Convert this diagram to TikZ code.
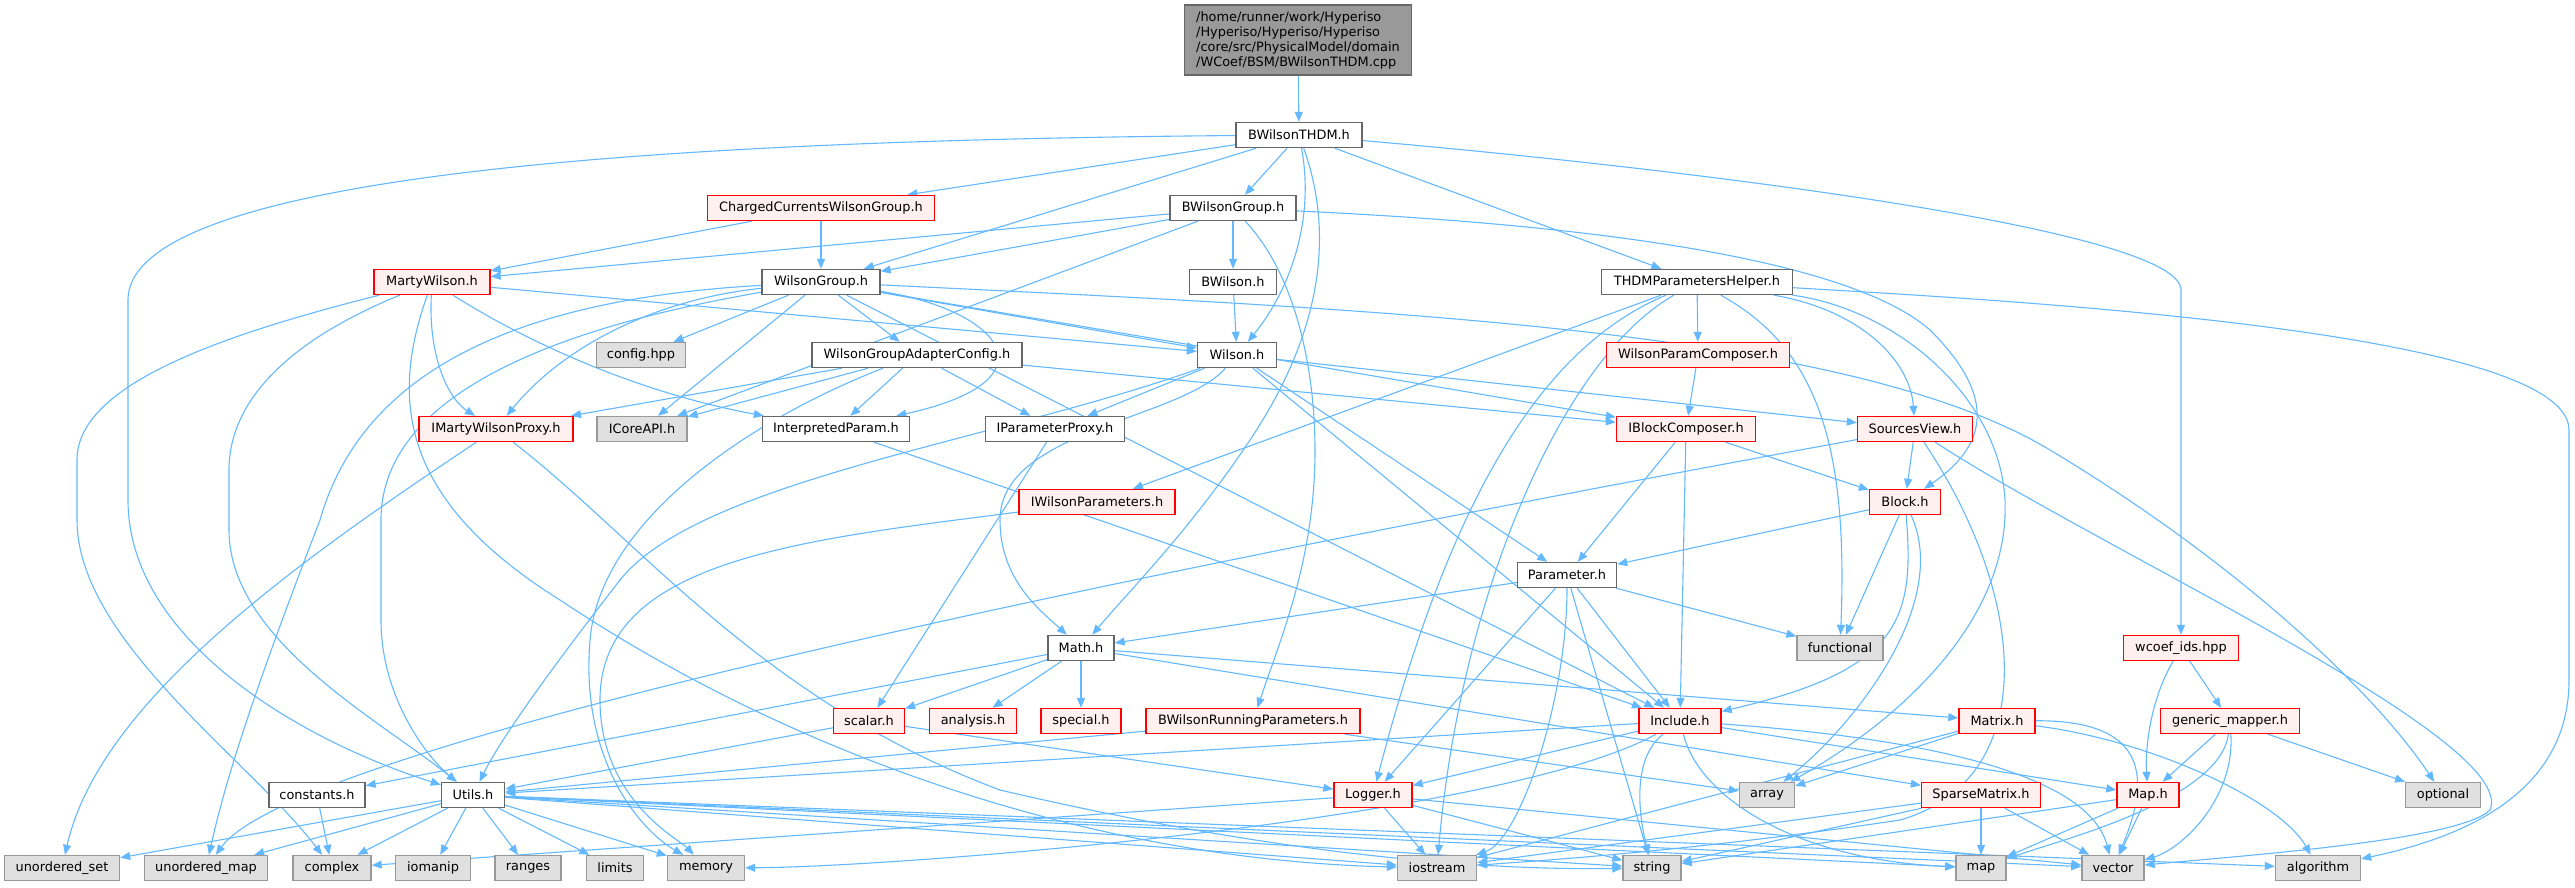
\documentclass[tikz,border=0pt]{standalone}
\usepackage{fontspec}
\setmainfont{DejaVu Sans}
\usetikzlibrary{arrows.meta,backgrounds}
\definecolor{edgeblue}{HTML}{63B8FF}
\definecolor{plainborder}{HTML}{666666}
\definecolor{redborder}{HTML}{FF0000}
\definecolor{redfill}{HTML}{FFF0F0}
\definecolor{sysborder}{HTML}{999999}
\definecolor{sysfill}{HTML}{E0E0E0}
\definecolor{topfill}{HTML}{999999}
\begin{document}
\begin{tikzpicture}[x=1pt,y=-1pt,
  every node/.style={font=\fontsize{12.9}{15}\selectfont},
  box/.style={draw=plainborder, fill=white, line width=1.4pt, minimum height=25pt, inner sep=0pt},
  redbox/.style={box, draw=redborder, fill=redfill},
  sysbox/.style={box, draw=sysborder, fill=sysfill},
  edge/.style={draw=edgeblue, line width=1.1pt, -{Triangle[length=10pt,width=8pt]}}]
\useasboundingbox (0,0) rectangle (2575,887);
\node[box, fill=topfill, minimum width=227pt, minimum height=70pt, align=left] (top) at (1298,40) {/home/runner/work/Hyperiso\\/Hyperiso/Hyperiso/Hyperiso\\/core/src/PhysicalModel/domain\\/WCoef/BSM/BWilsonTHDM.cpp};
\node[box, minimum width=126pt] (bthdm) at (1299,135) {BWilsonTHDM.h};
\node[redbox, minimum width=227pt] (ccwg) at (821,208) {ChargedCurrentsWilsonGroup.h};
\node[box, minimum width=126pt] (bwg) at (1233,208) {BWilsonGroup.h};
\node[redbox, minimum width=116pt] (mw) at (432,282) {MartyWilson.h};
\node[box, minimum width=118pt] (wg) at (821,282) {WilsonGroup.h};
\node[box, minimum width=87pt] (bw) at (1233,282) {BWilson.h};
\node[box, minimum width=191pt] (thdm) at (1697,282) {THDMParametersHelper.h};
\node[sysbox, minimum width=89pt] (config) at (641,355) {config.hpp};
\node[box, minimum width=210pt] (wgac) at (917,355) {WilsonGroupAdapterConfig.h};
\node[box, minimum width=79pt] (wilson) at (1237,355) {Wilson.h};
\node[redbox, minimum width=183pt] (wpc) at (1698,355) {WilsonParamComposer.h};
\node[redbox, minimum width=154pt] (imwp) at (496,429) {IMartyWilsonProxy.h};
\node[sysbox, minimum width=90pt] (icore) at (642,429) {ICoreAPI.h};
\node[box, minimum width=147pt] (ip) at (836,429) {InterpretedParam.h};
\node[box, minimum width=139pt] (ipp) at (1055,429) {IParameterProxy.h};
\node[redbox, minimum width=139pt] (ibc) at (1686,429) {IBlockComposer.h};
\node[redbox, minimum width=115pt] (sv) at (1915,429) {SourcesView.h};
\node[redbox, minimum width=156pt] (iwp) at (1097,502) {IWilsonParameters.h};
\node[redbox, minimum width=71pt] (block) at (1905,502) {Block.h};
\node[box, minimum width=99pt] (param) at (1567,575) {Parameter.h};
\node[box, minimum width=66pt] (math) at (1081,648) {Math.h};
\node[sysbox, minimum width=86pt] (functional) at (1840,648) {functional};
\node[redbox, minimum width=115pt] (wcoef) at (2181,648) {wcoef\_ids.hpp};
\node[redbox, minimum width=71pt] (scalar) at (869,721) {scalar.h};
\node[redbox, minimum width=87pt] (analysis) at (973,721) {analysis.h};
\node[redbox, minimum width=80pt] (special) at (1081,721) {special.h};
\node[redbox, minimum width=214pt] (bwrp) at (1253,721) {BWilsonRunningParameters.h};
\node[redbox, minimum width=82pt] (include) at (1680,721) {Include.h};
\node[redbox, minimum width=76pt] (matrix) at (1997,721) {Matrix.h};
\node[redbox, minimum width=139pt] (gm) at (2230,721) {generic\_mapper.h};
\node[box, minimum width=96pt] (constants) at (317,795) {constants.h};
\node[box, minimum width=63pt] (utils) at (473,795) {Utils.h};
\node[redbox, minimum width=78pt] (logger) at (1373,795) {Logger.h};
\node[sysbox, minimum width=55pt] (array) at (1767,795) {array};
\node[redbox, minimum width=119pt] (sparse) at (1981,795) {SparseMatrix.h};
\node[redbox, minimum width=62pt] (mapH) at (2148,795) {Map.h};
\node[sysbox, minimum width=75pt] (optional) at (2443,795) {optional};
\node[sysbox, minimum width=115pt] (uset) at (62,868) {unordered\_set};
\node[sysbox, minimum width=123pt] (umap) at (206,868) {unordered\_map};
\node[sysbox, minimum width=78pt] (complex) at (332,868) {complex};
\node[sysbox, minimum width=75pt] (iomanip) at (433,868) {iomanip};
\node[sysbox, minimum width=66pt] (ranges) at (528,868) {ranges};
\node[sysbox, minimum width=57pt] (limits) at (615,868) {limits};
\node[sysbox, minimum width=77pt] (memory) at (706,868) {memory};
\node[sysbox, minimum width=79pt] (iostream) at (1437,868) {iostream};
\node[sysbox, minimum width=58pt] (string) at (1652,868) {string};
\node[sysbox, minimum width=50pt] (map) at (1981,868) {map};
\node[sysbox, minimum width=62pt] (vector) at (2113,868) {vector};
\node[sysbox, minimum width=85pt] (algorithm) at (2318,868) {algorithm};
\begin{scope}[on background layer]
\foreach \a/\b in {top/bthdm, bthdm/ccwg, bthdm/bwg, bthdm/wg, bthdm/thdm, ccwg/mw, ccwg/wg, bwg/mw, bwg/wg, bwg/icore, bwg/bw, bw/wilson, mw/wilson, wg/config, wg/wgac, wg/icore, wg/wilson, wg/ibc, wg/include, wgac/imwp, wgac/icore, wgac/ip, wgac/ipp, wgac/ibc, wilson/ipp, wilson/param, wilson/include, wilson/sv, thdm/wpc, thdm/iwp, wpc/ibc, ibc/param, ibc/include, ibc/block, sv/block, block/param, block/functional, ip/include, ipp/scalar, param/math, param/include, param/logger, param/string, param/functional, math/scalar, math/analysis, math/special, math/constants, math/matrix, math/sparse, scalar/utils, scalar/logger, bwrp/utils, bwrp/array, include/utils, include/logger, include/mapH, matrix/array, matrix/iostream, wcoef/gm, gm/mapH, gm/optional, sparse/map, sparse/vector, sparse/string, sparse/iostream, mapH/map, mapH/vector, mapH/string, logger/iostream, logger/string, logger/complex, logger/vector, constants/complex, utils/uset, utils/umap, utils/complex, utils/iomanip, utils/ranges, utils/limits, utils/memory, utils/iostream, utils/string, utils/map, utils/vector, utils/algorithm}
  \draw[edge] (\a) -- (\b);
\draw[edge] (bthdm) .. controls (700,140) and (128,170) .. (128,300) -- (128,500) .. controls (128,640) and (300,740) .. (utils);
\draw[edge] (bthdm) .. controls (1315,220) and (1290,290) .. (wilson);
\draw[edge] (bthdm) .. controls (1340,250) and (1310,350) .. (1250,440) .. controls (1190,530) and (1130,590) .. (math);
\draw[edge] (bthdm) .. controls (1700,170) and (2181,230) .. (2181,290) -- (wcoef);
\draw[edge] (bwg) .. controls (1300,280) and (1315,380) .. (1315,450) .. controls (1315,560) and (1280,640) .. (bwrp);
\draw[edge] (bwg) .. controls (1600,225) and (1850,260) .. (1930,330) .. controls (1990,390) and (1995,440) .. (block);
\draw[edge] (mw) .. controls (200,340) and (77,390) .. (77,460) -- (77,520) .. controls (77,640) and (250,760) .. (complex);
\draw[edge] (mw) .. controls (290,340) and (229,400) .. (229,470) -- (229,530) .. controls (229,640) and (380,720) .. (utils);
\draw[edge] (mw) .. controls (390,400) and (400,500) .. (560,600) .. controls (800,760) and (1100,860) .. (iostream);
\draw[edge] (mw) .. controls (428,360) and (450,400) .. (imwp);
\draw[edge] (mw) .. controls (540,350) and (650,395) .. (ip);
\draw[edge] (wg) .. controls (650,300) and (560,350) .. (imwp);
\draw[edge] (wg) .. controls (500,300) and (360,380) .. (320,520) .. controls (270,650) and (230,760) .. (umap);
\draw[edge] (wg) .. controls (600,320) and (381,380) .. (381,520) -- (381,620) .. controls (381,700) and (430,760) .. (utils);
\draw[edge] (wg) .. controls (1000,310) and (1060,380) .. (ip);
\draw[edge] (wg) .. controls (1400,310) and (1850,330) .. (2050,450) .. controls (2250,570) and (2380,700) .. (optional);
\draw[edge] (wgac) .. controls (750,420) and (600,520) .. (590,640) .. controls (580,760) and (640,830) .. (memory);
\draw[edge] (wilson) .. controls (1180,420) and (1000,430) .. (1000,520) .. controls (1000,580) and (1040,610) .. (math);
\draw[edge] (wilson) .. controls (1000,440) and (700,480) .. (620,580) .. controls (550,670) and (500,740) .. (utils);
\draw[edge] (thdm) .. controls (2000,300) and (2569,330) .. (2569,430) -- (2569,680) .. controls (2569,800) and (2450,840) .. (algorithm);
\draw[edge] (thdm) .. controls (1900,310) and (2000,400) .. (2005,500) .. controls (2010,620) and (1900,720) .. (array);
\draw[edge] (thdm) .. controls (1820,350) and (1848,450) .. (functional);
\draw[edge] (thdm) .. controls (1860,310) and (1910,360) .. (sv);
\draw[edge] (thdm) .. controls (1560,340) and (1460,460) .. (logger);
\draw[edge] (thdm) .. controls (1560,360) and (1460,600) .. (iostream);
\draw[edge] (sv) .. controls (2100,550) and (2520,740) .. (2490,810) .. controls (2460,840) and (2250,855) .. (vector);
\draw[edge] (sv) .. controls (2030,600) and (2040,780) .. (1900,820) .. controls (1700,850) and (1550,860) .. (iostream);
\draw[edge] (sv) .. controls (1200,560) and (300,740) .. (umap);
\draw[edge] (block) .. controls (1915,620) and (1900,670) .. (include);
\draw[edge] (block) .. controls (1950,600) and (1860,720) .. (array);
\draw[edge] (iwp) .. controls (800,540) and (600,560) .. (600,700) .. controls (600,800) and (680,840) .. (memory);
\draw[edge] (imwp) .. controls (300,560) and (100,700) .. (uset);
\draw[edge] (imwp) .. controls (640,540) and (760,700) .. (1000,790) .. controls (1300,860) and (1500,870) .. (string);
\draw[edge] (include) .. controls (1630,760) and (1640,820) .. (string);
\draw[edge] (include) .. controls (1700,800) and (1800,860) .. (map);
\draw[edge] (include) .. controls (1950,740) and (2090,780) .. (vector);
\draw[edge] (include) .. controls (1500,820) and (900,867) .. (memory);
\draw[edge] (param) .. controls (1567,700) and (1520,840) .. (iostream);
\draw[edge] (matrix) .. controls (2150,720) and (2150,780) .. (vector);
\draw[edge] (matrix) .. controls (2150,740) and (2280,800) .. (algorithm);
\draw[edge] (wcoef) .. controls (2150,700) and (2145,750) .. (mapH);
\draw[edge] (gm) .. controls (2220,800) and (2060,840) .. (map);
\draw[edge] (gm) .. controls (2235,800) and (2180,850) .. (vector);
\end{scope}
\end{tikzpicture}
\end{document}
